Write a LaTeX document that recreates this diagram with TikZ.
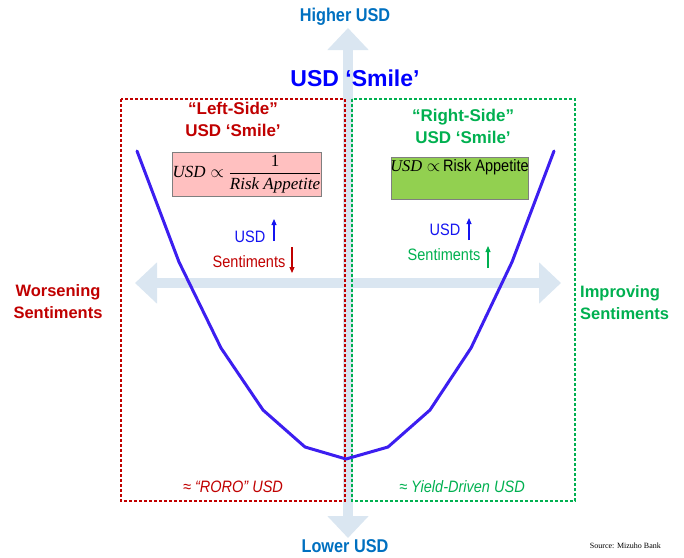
\documentclass[tikz,border=0pt]{standalone}
\usepackage{fontspec}
\setmainfont{Liberation Sans}
\newfontfamily\nsans[FakeStretch=0.88]{Liberation Sans}
\newfontfamily\rmserif{Liberation Serif}
\usetikzlibrary{arrows.meta}

\definecolor{axisblue}{HTML}{DAE6F1}
\definecolor{usdblue}{HTML}{0070C0}
\definecolor{titleblue}{HTML}{0000FF}
\definecolor{smallblue}{HTML}{1414F0}
\definecolor{darkred}{HTML}{C00000}
\definecolor{leafgreen}{HTML}{00B050}
\definecolor{curveblue}{HTML}{3C1EF0}
\definecolor{pinkfill}{HTML}{FFC0C0}
\definecolor{limefill}{HTML}{92D050}
\definecolor{boxgray}{HTML}{7F7F7F}

\tikzset{
  axisarrow/.style={draw=axisblue, line width=9.5pt,
    {Triangle[width=40pt,length=22pt]}-{Triangle[width=40pt,length=22pt]}},
  regionbox/.style={line width=1.3pt, dash pattern=on 3pt off 2pt},
  axislabel/.style={font=\nsans\bfseries\fontsize{18.5}{20}\selectfont, text=usdblue, inner sep=0pt},
  sidetitle/.style={font=\bfseries\fontsize{17}{22}\selectfont, align=center, inner sep=0pt},
  sidelabel/.style={font=\bfseries\fontsize{16.5}{22}\selectfont, inner sep=0pt},
  smalltext/.style={font=\nsans\fontsize{16.5}{18}\selectfont, inner sep=0pt},
  regimetext/.style={font=\nsans\itshape\fontsize{16.5}{18}\selectfont, inner sep=0pt},
  smallarrow/.style={line width=1.1pt, -{Triangle[width=5pt,length=6pt]}},
  formulabox/.style={draw=boxgray, line width=1pt, inner sep=0pt},
  smile/.style={draw=curveblue, line width=3pt, line join=round, line cap=round}
}

\begin{document}
\begin{tikzpicture}[x=1pt,y=-1pt]
\useasboundingbox (0,0) rectangle (684,557);

% axes
\coordinate (vtop) at (348,28);
\coordinate (vbot) at (348,538);
\coordinate (hleft) at (135,283);
\coordinate (hright) at (561,283);
\draw[axisarrow] (vbot) -- (vtop);
\draw[axisarrow] (hleft) -- (hright);

% regions
\draw[regionbox, darkred] (121,99) rectangle (345,501);
\draw[regionbox, leafgreen] (352,99) rectangle (575,501);

% axis labels
\node[axislabel] (higher) at (345,17) {Higher USD};
\node[axislabel] (lower) at (345,546) {Lower USD};
\node[font=\bfseries\fontsize{23}{26}\selectfont, text=titleblue, inner sep=0pt] (title) at (355,78) {USD ‘Smile’};

\node[sidetitle, text=darkred] (lefttitle) at (233,119) {“Left-Side”\\USD ‘Smile’};
\node[sidetitle, text=leafgreen] (righttitle) at (463,126.5) {“Right-Side”\\USD ‘Smile’};

\node[sidelabel, text=darkred, align=center] (worse) at (58,302) {Worsening\\Sentiments};
\node[sidelabel, text=leafgreen, align=left, anchor=west] (improve) at (580,303) {Improving\\Sentiments};

% formula boxes
\node[formulabox, fill=pinkfill, minimum width=148pt, minimum height=44pt] (leftformula) at (247,174)
  {\fontsize{17}{18}\selectfont$\displaystyle \mbox{\rmserif\itshape USD}\mkern5mu\mathord{\propto}\mkern5mu\frac{\mbox{\rmserif 1}}{\mbox{\rmserif\itshape Risk Appetite}}$};
\node[formulabox, fill=limefill, minimum width=137pt, minimum height=42pt] (rightformula) at (459.5,178) {};
\node[inner sep=0pt] (rightformulatext) at (459.5,167)
  {\fontsize{16.5}{18}\selectfont{\rmserif\itshape USD}\;$\propto$\,{\nsans Risk Appetite}};

% left side indicators
\node[smalltext, text=smallblue] (usdleft) at (250,237) {USD};
\coordinate (usdleftA) at (274,241);
\coordinate (usdleftB) at (274,219);
\draw[smallarrow, smallblue] (usdleftA) -- (usdleftB);
\node[smalltext, text=darkred] (sentleft) at (249,262) {Sentiments};
\coordinate (sentleftA) at (292,247);
\coordinate (sentleftB) at (292,273);
\draw[smallarrow, darkred] (sentleftA) -- (sentleftB);

% right side indicators
\node[smalltext, text=smallblue] (usdright) at (445,230) {USD};
\coordinate (usdrightA) at (469,240);
\coordinate (usdrightB) at (469,218);
\draw[smallarrow, smallblue] (usdrightA) -- (usdrightB);
\node[smalltext, text=leafgreen] (sentright) at (444,255) {Sentiments};
\coordinate (sentrightA) at (488,268);
\coordinate (sentrightB) at (488,246);
\draw[smallarrow, leafgreen] (sentrightA) -- (sentrightB);

% regime notes
\node[regimetext, text=darkred] (roro) at (233,487) {≈ “RORO” USD};
\node[regimetext, text=leafgreen] (yield) at (462,487) {≈ Yield-Driven USD};

% the smile
\draw[smile] (137,151) -- (179,262) -- (221,348) -- (263,410) -- (305,447) -- (346,459)
  -- (388,447) -- (430,410) -- (471,348) -- (512,262) -- (554,151);

\node[font=\rmserif\fontsize{8}{9}\selectfont, anchor=east, inner sep=0pt] (source) at (661,546) {Source: Mizuho Bank};
\end{tikzpicture}
\end{document}
